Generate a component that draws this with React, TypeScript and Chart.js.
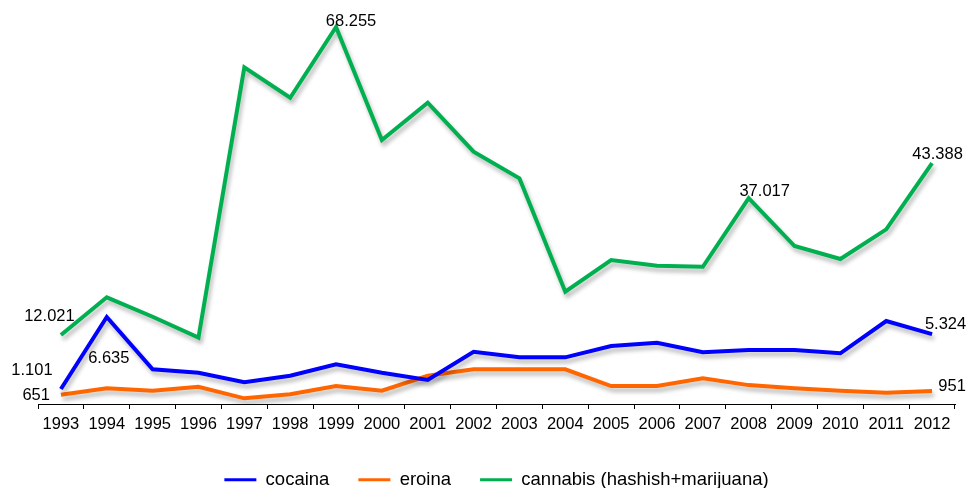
import React, { useEffect, useRef } from 'react';
import { Chart, registerables } from 'chart.js';

Chart.register(...registerables);

const years = ['1993', '1994', '1995', '1996', '1997', '1998', '1999', '2000', '2001', '2002', '2003', '2004', '2005', '2006', '2007', '2008', '2009', '2010', '2011', '2012'];
const cocaina = [1101, 6635, 2613, 2352, 1614, 2121, 2998, 2352, 1791, 3966, 3536, 3536, 4404, 4658, 3920, 4097, 4097, 3843, 6326, 5324];
const eroina = [651, 1153, 968, 1276, 384, 692, 1330, 968, 2121, 2613, 2613, 2613, 1330, 1330, 1922, 1400, 1153, 968, 815, 951];
const cannabis = [12021, 18900, 15355, 11530, 60890, 55340, 68255, 47617, 54428, 45481, 40625, 19920, 25708, 24667, 24484, 37017, 28264, 25890, 31313, 43388];
const seriesNames = ['cocaina', 'eroina', 'cannabis (hashish+marijuana)'];
const seriesColors = ['#0000FF', '#FF6600', '#00B050'];

// which points carry a value label: [dataset, index, dx, dy, align]
const valueLabels: [number, number, number, number, CanvasTextAlign][] = [
  [2, 0, -11.5, -19, 'center'],
  [0, 0, -29, -19, 'center'],
  [1, 0, -11, 1, 'right'],
  [0, 1, 2, 41, 'center'],
  [2, 6, 15, -6, 'center'],
  [2, 15, 16, -7, 'center'],
  [2, 19, 5.5, -9, 'center'],
  [0, 19, 13.5, -10, 'center'],
  [1, 19, 20, -4, 'center'],
];

const FONT = "'Liberation Sans', Arial, Helvetica, sans-serif";

function fmt(v: number): string {
  const s = Math.round(v).toString();
  return s.replace(/\B(?=(\d{3})+(?!\d))/g, '.');
}

const shadowPlugin = {
  id: 'lineShadow',
  beforeDatasetsDraw(chart: any) {
    const ctx = chart.ctx;
    ctx.save();
    ctx.shadowColor = 'rgba(0,0,0,0.28)';
    ctx.shadowBlur = 4;
    ctx.shadowOffsetX = 2;
    ctx.shadowOffsetY = 4;
  },
  afterDatasetsDraw(chart: any) {
    chart.ctx.restore();
  },
};

const labelPlugin = {
  id: 'valueLabels',
  afterDatasetsDraw(chart: any) {
    const ctx = chart.ctx;
    ctx.save();
    ctx.font = `16.5px ${FONT}`;
    ctx.fillStyle = '#000';
    ctx.textBaseline = 'middle';
    for (const [ds, i, dx, dy, align] of valueLabels) {
      const meta = chart.getDatasetMeta(ds);
      const pt = meta.data[i];
      const v = chart.data.datasets[ds].data[i] as number;
      ctx.textAlign = align;
      ctx.fillText(fmt(v), pt.x + dx, pt.y + dy);
    }
    ctx.restore();
  },
};

const legendHeightPlugin = {
  id: 'legendHeight',
  beforeLayout(chart: any) {
    const lg = chart.legend;
    if (lg && !lg._fixedFit) {
      const orig = lg.fit.bind(lg);
      lg.fit = () => {
        orig();
        lg.height = 46.5;
      };
      lg._fixedFit = true;
    }
  },
};

export default function App() {
  const ref = useRef<HTMLCanvasElement | null>(null);

  useEffect(() => {
    document.body.style.margin = '0';
    const canvas = ref.current!;
    const datasets = [cocaina, eroina, cannabis].map((d, k) => ({
      label: seriesNames[k],
      data: d,
      borderColor: seriesColors[k],
      backgroundColor: seriesColors[k],
      borderWidth: 4,
      pointRadius: 0,
      pointHoverRadius: 0,
      tension: 0,
      fill: false,
      yAxisID: k === 2 ? 'y' : 'y1',
    }));
    const chart = new Chart(canvas, {
      type: 'line',
      data: { labels: years, datasets },
      plugins: [legendHeightPlugin, shadowPlugin, labelPlugin],
      options: {
        animation: false,
        responsive: false,
        maintainAspectRatio: false,
        devicePixelRatio: 1,
        layout: { padding: { left: 38, right: 15, top: 10, bottom: 0 } },
        plugins: {
          tooltip: { enabled: false },
          legend: {
            position: 'bottom',
            labels: {
              usePointStyle: true,
              pointStyle: 'line',
              pointStyleWidth: 32,
              padding: 29,
              color: '#000',
              font: { family: FONT, size: 18.5 },
              generateLabels: (c: any) =>
                Chart.defaults.plugins.legend.labels.generateLabels(c).map((l: any) => ({ ...l, lineWidth: 3 })),
            },
          },
        },
        scales: {
          x: {
            offset: true,
            grid: {
              offset: true,
              drawOnChartArea: false,
              drawTicks: true,
              tickLength: 5,
              color: '#000',
              lineWidth: 1,
            },
            border: { display: true, color: '#000', width: 1 },
            ticks: {
              color: '#000',
              font: { family: FONT, size: 16.5 },
              padding: 6,
              autoSkip: false,
              maxRotation: 0,
            },
            afterFit: (scale: any) => {
              scale.height = 37.5;
            },
          },
          y: { display: false, min: -577, max: 71359 },
          y1: { display: false, min: -52, max: 30232 },
        },
      },
    } as any);
    return () => chart.destroy();
  }, []);

  return (
    <div style={{ position: 'fixed', left: 0, top: 0, width: 970, height: 488, background: '#fff' }}>
      <canvas ref={ref} width={970} height={488} style={{ width: 970, height: 488, display: 'block' }} />
    </div>
  );
}
